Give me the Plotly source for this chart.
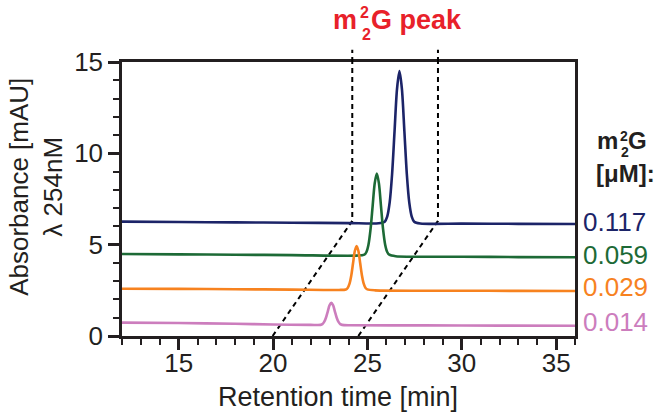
import plotly.graph_objects as go

# ---------------- data ----------------
conc_labels = ["0.117", "0.059", "0.029", "0.014"]
colors = ["#1c2468", "#1d6a36", "#f7821f", "#cc7dbd"]

t_0117 = [12, 15, 18, 21, 24, 25.6,
          25.92, 26.05, 26.18, 26.31, 26.44, 26.57, 26.7, 26.83, 26.96, 27.09, 27.22, 27.35, 27.48,
          27.8, 30, 33, 36]
a_0117 = [6.26, 6.24, 6.22, 6.20, 6.18, 6.17,
          6.26, 6.54, 7.30, 8.87, 11.22, 13.52, 14.50, 13.52, 11.22, 8.87, 7.30, 6.54, 6.26,
          6.16, 6.15, 6.14, 6.13]

t_0059 = [12, 15, 18, 21, 24.4,
          24.84, 24.95, 25.06, 25.17, 25.28, 25.39, 25.5, 25.61, 25.72, 25.83, 25.94, 26.05, 26.16,
          26.5, 30, 33, 36]
a_0059 = [4.49, 4.47, 4.45, 4.43, 4.40,
          4.45, 4.60, 5.01, 5.86, 7.13, 8.37, 8.90, 8.37, 7.13, 5.86, 5.01, 4.60, 4.45,
          4.37, 4.34, 4.32, 4.31]

t_0029 = [12, 15, 18, 21, 23.5,
          23.86, 23.955, 24.05, 24.145, 24.24, 24.335, 24.43, 24.525, 24.62, 24.715, 24.81, 24.905, 25.0,
          25.4, 30, 33, 36]
a_0029 = [2.59, 2.58, 2.56, 2.54, 2.52,
          2.55, 2.63, 2.85, 3.30, 3.98, 4.65, 4.93, 4.65, 3.98, 3.30, 2.85, 2.63, 2.55,
          2.50, 2.48, 2.47, 2.46]

t_0014 = [12, 15, 18, 20, 22,
          22.52, 22.615, 22.71, 22.805, 22.9, 22.995, 23.09, 23.185, 23.28, 23.375, 23.47, 23.565, 23.66,
          24.1, 28, 32, 36]
a_0014 = [0.73, 0.71, 0.67, 0.63, 0.61,
          0.61, 0.65, 0.77, 1.00, 1.34, 1.68, 1.82, 1.68, 1.34, 1.00, 0.77, 0.65, 0.61,
          0.59, 0.58, 0.57, 0.56]

series_t = [t_0117, t_0059, t_0029, t_0014]
series_a = [a_0117, a_0059, a_0029, a_0014]
label_y = [6.26, 4.43, 2.70, 0.78]

# window of the m2G peak (dashed guide lines)
win_left_t = [19.98, 24.2, 24.2]
win_left_a = [0, 6.3, 15]
win_right_t = [24.52, 28.74, 28.74]
win_right_a = [0, 6.3, 15]

x_ticks = [15, 20, 25, 30, 35]
y_ticks = [0, 5, 10, 15]

# ---------------- figure ----------------
FONT = "Liberation Sans, Arial, Helvetica, sans-serif"
INK = "#231f20"
RED = "#e8212a"

fig = go.Figure()

for xs, ys in [(win_left_t, win_left_a), (win_right_t, win_right_a)]:
    fig.add_trace(go.Scatter(x=xs, y=ys, mode="lines",
                             line=dict(color="black", width=2, dash="5px,4px"),
                             hoverinfo="skip", showlegend=False))
    fig.add_shape(type="line", xref="x", yref="paper", x0=xs[-1], x1=xs[-1], y0=1.0, y1=1.045,
                  line=dict(color="black", width=2, dash="5px,4px"))

for xs, ys, c, name in zip(series_t, series_a, colors, conc_labels):
    fig.add_trace(go.Scatter(x=xs, y=ys, mode="lines", name=name,
                             line=dict(color=c, width=2.6, shape="spline", smoothing=0.8),
                             showlegend=False))

for name, c, yv in zip(conc_labels, colors, label_y):
    fig.add_annotation(text=name, xref="paper", yref="y", x=1, y=yv, xshift=6,
                       xanchor="left", yanchor="middle", showarrow=False,
                       font=dict(family=FONT, size=26, color=c))

# m2_2G labels (stacked super/subscript)
def stacked_label(base_x, base_yshift, parts, color):
    for txt, xs, ys, anchor, sz in parts:
        fig.add_annotation(text="<b>" + txt + "</b>", xref="paper", yref="paper",
                           x=base_x, y=1, xshift=xs, yshift=base_yshift + ys,
                           xanchor=anchor, yanchor="middle", showarrow=False,
                           font=dict(family=FONT, size=sz, color=color))

stacked_label(0, 42, [("m", 237, 0, "right", 27), ("2", 236, 8, "left", 16),
                      ("2", 238, -14, "left", 16), ("G peak", 247, 0, "left", 27)],
              RED)
stacked_label(1, -78.5, [("m", 45, 0, "right", 24), ("2", 43, 5, "left", 14),
                          ("2", 44, -11, "left", 14), ("G", 51, 0, "left", 24)],
              INK)
fig.add_annotation(text="<b>[μM]:</b>", xref="paper", yref="paper", x=1, y=1,
                   xshift=19, yshift=-111, xanchor="left", yanchor="middle",
                   showarrow=False, font=dict(family=FONT, size=24, color=INK))

# axis titles
fig.add_annotation(text="Retention time [min]", xref="paper", yref="paper",
                   x=0.477, y=-0.223, xanchor="center", yanchor="middle",
                   showarrow=False, font=dict(family=FONT, size=27, color=INK))
fig.add_annotation(text="Absorbance [mAU]<br>λ 254nM", xref="paper", yref="paper",
                   x=-0.19, y=0.544, xanchor="center", yanchor="middle", textangle=-90,
                   showarrow=False, font=dict(family=FONT, size=26, color=INK))

axis_common = dict(showline=True, linecolor=INK, linewidth=2.5, mirror=True,
                   showgrid=False, zeroline=False, ticks="outside", ticklen=11,
                   tickwidth=2.5, tickcolor=INK,
                   tickfont=dict(family=FONT, size=26, color=INK))

fig.update_xaxes(range=[12, 36], tickvals=x_ticks, ticklabelstandoff=-9,
                 minor=dict(dtick=1, tick0=12, ticks="outside", ticklen=6, tickwidth=2, tickcolor=INK),
                 **axis_common)
fig.update_yaxes(range=[0, 15], tickvals=y_ticks,
                 minor=dict(dtick=1, tick0=0, ticks="outside", ticklen=6, tickwidth=2, tickcolor=INK),
                 **axis_common)

fig.update_layout(width=661, height=417, autosize=False,
                  margin=dict(l=122, r=86, t=62, b=81),
                  paper_bgcolor="white", plot_bgcolor="white",
                  font=dict(family=FONT, color=INK), showlegend=False)

fig.write_html("out.html", config={"displayModeBar": False},
               post_script="document.body.style.margin='0';")
